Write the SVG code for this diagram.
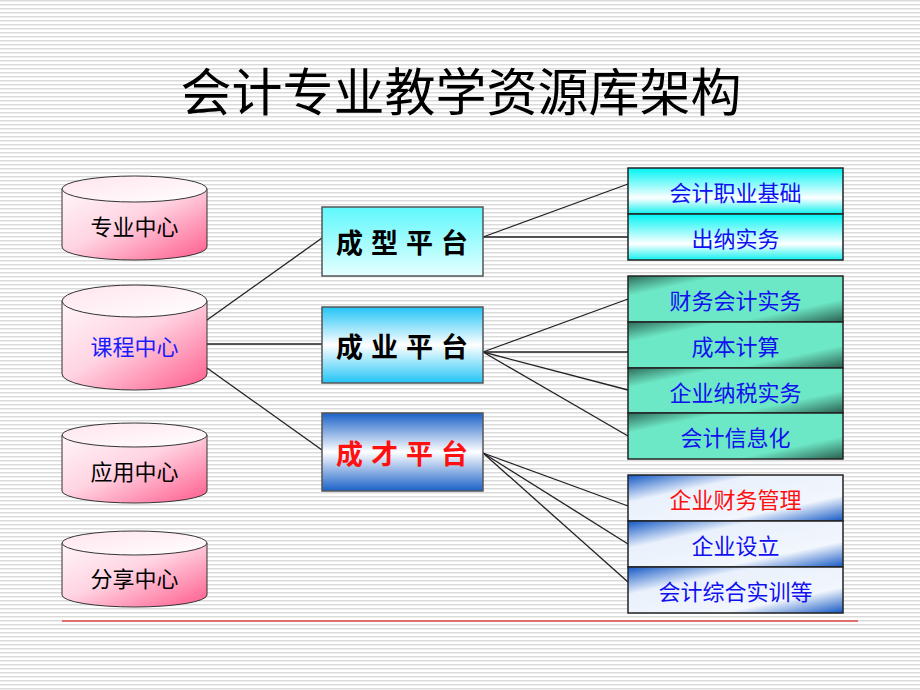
<svg xmlns="http://www.w3.org/2000/svg" width="920" height="690" viewBox="0 0 920 690">
<defs>
<pattern id="bg" width="8" height="4" patternUnits="userSpaceOnUse">
<rect width="8" height="4" fill="#ffffff"/>
<rect y="0" width="8" height="1" fill="#dadada"/>
<rect y="1" width="8" height="1" fill="#eeeeee"/>
</pattern>
<linearGradient id="cylBody" x1="0" y1="0" x2="1" y2="1">
<stop offset="0" stop-color="#fff6f9"/>
<stop offset="0.45" stop-color="#ffd4e2"/>
<stop offset="1" stop-color="#ff5a8c"/>
</linearGradient>
<linearGradient id="cylTop" x1="0" y1="0" x2="1" y2="1">
<stop offset="0" stop-color="#ffe4ee"/>
<stop offset="1" stop-color="#ffffff"/>
</linearGradient>
<linearGradient id="gXing" x1="0" y1="0" x2="0" y2="1">
<stop offset="0" stop-color="#5ef8fc"/>
<stop offset="1" stop-color="#e6ffff"/>
</linearGradient>
<linearGradient id="gYe" x1="0" y1="0" x2="0" y2="1">
<stop offset="0" stop-color="#22c4f6"/>
<stop offset="0.5" stop-color="#ffffff"/>
<stop offset="1" stop-color="#22c4f6"/>
</linearGradient>
<linearGradient id="gCai" x1="0" y1="0" x2="0" y2="1">
<stop offset="0" stop-color="#1a62c8"/>
<stop offset="0.5" stop-color="#ffffff"/>
<stop offset="1" stop-color="#1a62c8"/>
</linearGradient>
<linearGradient id="gC1" x1="0" y1="0" x2="0" y2="1">
<stop offset="0" stop-color="#00f4f4"/>
<stop offset="0.65" stop-color="#ffffff"/>
<stop offset="1" stop-color="#10f0f0"/>
</linearGradient>
<linearGradient id="gC2" x1="0" y1="0" x2="1" y2="1">
<stop offset="0" stop-color="#2e6a58"/>
<stop offset="0.22" stop-color="#6de8c6"/>
<stop offset="0.75" stop-color="#6de8c6"/>
<stop offset="1" stop-color="#2a5e4e"/>
</linearGradient>
<linearGradient id="gC3" x1="0" y1="0" x2="1" y2="1">
<stop offset="0" stop-color="#1358c4"/>
<stop offset="0.3" stop-color="#eaf1fc"/>
<stop offset="0.72" stop-color="#f2f6fd"/>
<stop offset="1" stop-color="#1358c4"/>
</linearGradient>
<style>
.cyl{fill:url(#cylBody);stroke:#333;stroke-width:1}
.cylt{fill:url(#cylTop);stroke:#333;stroke-width:1}
.ct{font-family:"Noto Sans CJK SC","Noto Sans",sans-serif;font-size:22px;text-anchor:middle;dominant-baseline:central}
.pb{stroke:#555;stroke-width:1.5}
.pt{font-family:"Noto Sans CJK SC","Noto Sans",sans-serif;font-size:27px;font-weight:bold;letter-spacing:8px;text-anchor:middle;dominant-baseline:central}
.cell{stroke:#222;stroke-width:1.5}
.rt{font-family:"Noto Sans CJK SC","Noto Sans",sans-serif;font-size:22px;text-anchor:middle;dominant-baseline:central;fill:#1010f0}
.ln{stroke:#222;stroke-width:1.3;fill:none}
</style>
</defs>
<rect width="920" height="690" fill="url(#bg)"/>
<text x="461" y="89" font-family="Noto Sans CJK SC, Noto Sans, sans-serif" font-size="51" text-anchor="middle" dominant-baseline="central" fill="#000">会计专业教学资源库架构</text>

<g id="connectors">
<line class="ln" x1="207" y1="320" x2="322" y2="238"/>
<line class="ln" x1="207" y1="344" x2="322" y2="344"/>
<line class="ln" x1="207" y1="368" x2="322" y2="450"/>
<line class="ln" x1="483" y1="237" x2="628" y2="184"/>
<line class="ln" x1="483" y1="237" x2="628" y2="237"/>
<line class="ln" x1="483" y1="352" x2="628" y2="299"/>
<line class="ln" x1="483" y1="352" x2="628" y2="352"/>
<line class="ln" x1="483" y1="352" x2="628" y2="390"/>
<line class="ln" x1="483" y1="352" x2="628" y2="436"/>
<line class="ln" x1="483" y1="453" x2="628" y2="506"/>
<line class="ln" x1="483" y1="453" x2="628" y2="544"/>
<line class="ln" x1="483" y1="453" x2="628" y2="582"/>
</g>

<g id="cyl-zhuanye">
<path class="cyl" d="M62,189 L62,247 A72.5,13 0 0 0 207,247 L207,189 Z"/>
<ellipse class="cylt" cx="134.5" cy="189" rx="72.5" ry="13"/>
<text class="ct" x="134.5" y="225" fill="#000">专业中心</text>
</g>
<g id="cyl-kecheng">
<path class="cyl" d="M62,301 L62,374 A72.5,16 0 0 0 207,374 L207,301 Z"/>
<ellipse class="cylt" cx="134.5" cy="301" rx="72.5" ry="16"/>
<text class="ct" x="134.5" y="345" fill="#1a1aff">课程中心</text>
</g>
<g id="cyl-yingyong">
<path class="cyl" d="M62,435 L62,491 A72.5,12 0 0 0 207,491 L207,435 Z"/>
<ellipse class="cylt" cx="134.5" cy="435" rx="72.5" ry="12"/>
<text class="ct" x="134.5" y="470" fill="#000">应用中心</text>
</g>
<g id="cyl-fenxiang">
<path class="cyl" d="M62,543 L62,595 A72.5,12 0 0 0 207,595 L207,543 Z"/>
<ellipse class="cylt" cx="134.5" cy="543" rx="72.5" ry="12"/>
<text class="ct" x="134.5" y="577" fill="#000">分享中心</text>
</g>

<g id="plat-chengxing">
<rect class="pb" x="322" y="207" width="161" height="69" fill="url(#gXing)"/>
<text class="pt" x="406" y="241" fill="#000">成型平台</text>
</g>
<g id="plat-chengye">
<rect class="pb" x="322" y="307" width="161" height="76" fill="url(#gYe)"/>
<text class="pt" x="406" y="345" fill="#000">成业平台</text>
</g>
<g id="plat-chengcai">
<rect class="pb" x="322" y="413" width="161" height="78" fill="url(#gCai)"/>
<text class="pt" x="406" y="452" fill="#ff1010">成才平台</text>
</g>

<g id="cell-kjzyjc">
<rect class="cell" x="628" y="168" width="215" height="46" fill="url(#gC1)"/>
<text class="rt" x="735.5" y="191">会计职业基础</text>
</g>
<g id="cell-cnsw">
<rect class="cell" x="628" y="214" width="215" height="46" fill="url(#gC1)"/>
<text class="rt" x="735.5" y="237">出纳实务</text>
</g>

<g id="cell-cwkjsw">
<rect class="cell" x="628" y="276" width="215" height="46" fill="url(#gC2)"/>
<text class="rt" x="735.5" y="299">财务会计实务</text>
</g>
<g id="cell-cbjs">
<rect class="cell" x="628" y="322" width="215" height="46" fill="url(#gC2)"/>
<text class="rt" x="735.5" y="345">成本计算</text>
</g>
<g id="cell-qynssw">
<rect class="cell" x="628" y="368" width="215" height="45" fill="url(#gC2)"/>
<text class="rt" x="735.5" y="390.5">企业纳税实务</text>
</g>
<g id="cell-kjxxh">
<rect class="cell" x="628" y="413" width="215" height="46" fill="url(#gC2)"/>
<text class="rt" x="735.5" y="436">会计信息化</text>
</g>

<g id="cell-qycwgl">
<rect class="cell" x="628" y="475" width="215" height="46" fill="url(#gC3)"/>
<text class="rt" x="735.5" y="498" style="fill:#ff1010">企业财务管理</text>
</g>
<g id="cell-qysl">
<rect class="cell" x="628" y="521" width="215" height="46" fill="url(#gC3)"/>
<text class="rt" x="735.5" y="544">企业设立</text>
</g>
<g id="cell-kjzhsx">
<rect class="cell" x="628" y="567" width="215" height="46" fill="url(#gC3)"/>
<text class="rt" x="735.5" y="590">会计综合实训等</text>
</g>

<line x1="62" y1="621" x2="858" y2="621" stroke="#e07070" stroke-width="2"/>
</svg>
